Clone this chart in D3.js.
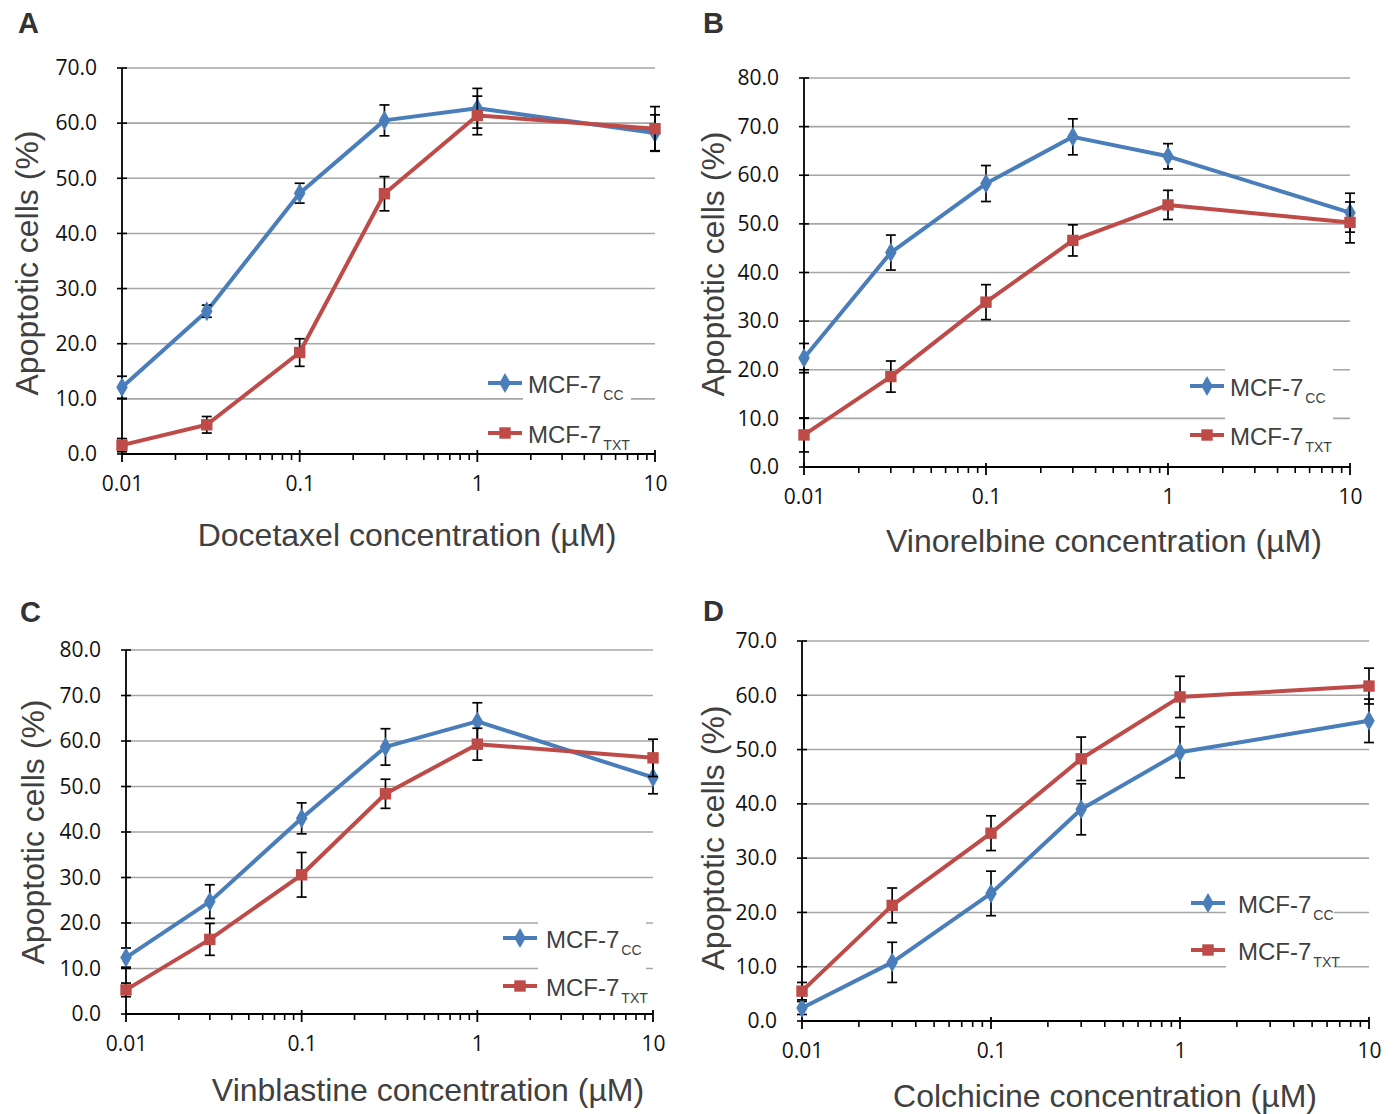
<!DOCTYPE html>
<html><head><meta charset="utf-8">
<script src="https://cdn.jsdelivr.net/npm/d3@7"></script>
<style>
html,body{margin:0;padding:0;background:#fff;}
svg{display:block;}
</style></head>
<body>
<svg id="chart" width="1397" height="1114"></svg>
<script>
// ---------- DATA ----------
const concentrations = [0.01, 0.03, 0.1, 0.3, 1, 10];
const xTickLabels = ["0.01", "0.1", "1", "10"];
const xTickValues = [0.01, 0.1, 1, 10];
const seriesBase = "MCF-7";
const seriesSubs = ["CC", "TXT"];
const panelLetters = ["A", "B", "C", "D"];
const drugTitles = ["Docetaxel concentration (\u00b5M)", "Vinorelbine concentration (\u00b5M)",
                    "Vinblastine concentration (\u00b5M)", "Colchicine concentration (\u00b5M)"];
const yTitle = "Apoptotic cells (%)";
const yMaxes = [70, 80, 80, 70];

const docetaxelCC      = [12.1, 25.9, 47.3, 60.5, 62.7, 58.2];
const docetaxelCCErr   = [2.0, 1.1, 1.8, 2.8, 3.6, 3.3];
const docetaxelTXT     = [1.6, 5.3, 18.4, 47.2, 61.4, 59.0];
const docetaxelTXTErr  = [1.2, 1.5, 2.5, 3.1, 3.5, 4.0];

const vinorelbineCC     = [22.4, 44.1, 58.3, 67.9, 63.9, 52.3];
const vinorelbineCCErr  = [3.0, 3.6, 3.7, 3.7, 2.6, 4.0];
const vinorelbineTXT    = [6.6, 18.6, 33.9, 46.6, 53.9, 50.3];
const vinorelbineTXTErr = [3.5, 3.2, 3.6, 3.2, 3.0, 4.2];

const vinblastineCC     = [12.4, 24.7, 43.0, 58.7, 64.3, 52.0];
const vinblastineCCErr  = [2.1, 3.7, 3.4, 4.0, 4.1, 3.6];
const vinblastineTXT    = [5.3, 16.4, 30.6, 48.4, 59.3, 56.3];
const vinblastineTXTErr = [1.5, 3.5, 4.9, 3.2, 3.5, 4.1];

const colchicineCC      = [2.4, 10.8, 23.5, 39.0, 49.5, 55.3];
const colchicineCCErr   = [1.2, 3.7, 4.1, 4.7, 4.7, 4.0];
const colchicineTXT     = [5.5, 21.3, 34.6, 48.3, 59.7, 61.7];
const colchicineTXTErr  = [1.6, 3.2, 3.2, 4.0, 3.8, 3.3];

const panelSeries = [
  [[docetaxelCC, docetaxelCCErr], [docetaxelTXT, docetaxelTXTErr]],
  [[vinorelbineCC, vinorelbineCCErr], [vinorelbineTXT, vinorelbineTXTErr]],
  [[vinblastineCC, vinblastineCCErr], [vinblastineTXT, vinblastineTXTErr]],
  [[colchicineCC, colchicineCCErr], [colchicineTXT, colchicineTXTErr]]
];

// ---------- LAYOUT / STYLE ----------
const colors = ["#4a7ebb", "#be4b48"];
const layout = [
  {x0:122, x1:655, y0:454, y1:68,  letter:[18,33],  xt:[407,546], yt:[27,263],  leg:{lx:488, tx:528, r1:383, r2:433}},
  {x0:804, x1:1350, y0:467, y1:78, letter:[703,33], xt:[1104,552], yt:[713,264], leg:{lx:1190, tx:1230, r1:386, r2:435}},
  {x0:126, x1:653, y0:1014, y1:650, letter:[20,622], xt:[428,1101], yt:[33,832], leg:{lx:503, tx:546, r1:938, r2:986}},
  {x0:802, x1:1369, y0:1021, y1:641, letter:[703,621], xt:[1105,1107], yt:[713,838], leg:{lx:1191, tx:1238, r1:903, r2:950}}
];

const svg = d3.select("#chart");
svg.append("rect").attr("width",1397).attr("height",1114).attr("fill","#fff");

const diamond = d3.symbol().type(d3.symbolDiamond).size(115);
const square = d3.symbol().type(d3.symbolSquare).size(130);

panelLetters.forEach((letter, p) => {
  const L = layout[p];
  const g = svg.append("g");
  const x = d3.scaleLog().domain([0.01, 10]).range([L.x0, L.x1]);
  const y = d3.scaleLinear().domain([0, yMaxes[p]]).range([L.y0, L.y1]);
  const yTicks = d3.range(0, yMaxes[p] + 0.001, 10);

  // gridlines
  g.append("g").selectAll("line").data(yTicks.filter(v => v > 0)).join("line")
    .attr("x1", L.x0).attr("x2", L.x1)
    .attr("y1", d => y(d)).attr("y2", d => y(d))
    .attr("stroke", "#a6a6a6").attr("stroke-width", 1.6);

  // y axis
  const yAxis = d3.axisLeft(y).tickValues(yTicks).tickFormat(d3.format(".1f")).tickSize(0).tickPadding(25);
  const ya = g.append("g").attr("transform", `translate(${L.x0},0)`).call(yAxis);
  ya.select(".domain").remove();
  ya.selectAll("text").attr("font-family", "'Open Sans', sans-serif").attr("font-size", 21).attr("fill", "#111");
  g.append("g").selectAll("line").data(yTicks).join("line")
    .attr("x1", L.x0 - 5).attr("x2", L.x0 + 5)
    .attr("y1", d => y(d)).attr("y2", d => y(d))
    .attr("stroke", "#000").attr("stroke-width", 1.6);
  g.append("line").attr("x1", L.x0).attr("x2", L.x0).attr("y1", y(0)).attr("y2", y(yMaxes[p]))
    .attr("stroke", "#000").attr("stroke-width", 1.8);

  // x axis
  const minorTicks = [];
  [0.01, 0.1, 1].forEach(dec => { for (let k = 2; k <= 9; k++) minorTicks.push(dec * k); });
  const xAxis = d3.axisBottom(x).tickValues(xTickValues).tickFormat((d, i) => xTickLabels[i]).tickSize(0).tickPadding(22);
  const xa = g.append("g").attr("transform", `translate(0,${L.y0})`).call(xAxis);
  xa.select(".domain").remove();
  xa.selectAll("text").attr("font-family", "'Open Sans', sans-serif").attr("font-size", 21).attr("fill", "#111");
  g.append("g").selectAll("line").data(minorTicks).join("line")
    .attr("x1", d => x(d)).attr("x2", d => x(d))
    .attr("y1", L.y0).attr("y2", L.y0 + 6)
    .attr("stroke", "#000").attr("stroke-width", 1.6);
  g.append("g").selectAll("line").data(xTickValues).join("line")
    .attr("x1", d => x(d)).attr("x2", d => x(d))
    .attr("y1", L.y0 - 4).attr("y2", L.y0 + 8)
    .attr("stroke", "#000").attr("stroke-width", 1.8);
  g.append("line").attr("x1", L.x0).attr("x2", L.x1).attr("y1", L.y0).attr("y2", L.y0)
    .attr("stroke", "#000").attr("stroke-width", 1.8);

  // titles
  g.append("text").attr("x", L.xt[0]).attr("y", L.xt[1]).attr("text-anchor", "middle")
    .attr("font-family", "'Liberation Sans', Arial, sans-serif").attr("font-size", 32).attr("fill", "#404040")
    .text(drugTitles[p]);
  g.append("text").attr("transform", `translate(${L.yt[0]},${L.yt[1]}) rotate(-90)`)
    .attr("text-anchor", "middle").attr("dominant-baseline", "central")
    .attr("font-family", "'Liberation Sans', Arial, sans-serif").attr("font-size", 32).attr("fill", "#404040")
    .text(yTitle);
  g.append("text").attr("x", L.letter[0]).attr("y", L.letter[1])
    .attr("font-family", "'Liberation Sans', Arial, sans-serif").attr("font-weight", "bold")
    .attr("font-size", 29).attr("fill", "#333").text(letter);

  // series
  panelSeries[p].forEach((s, si) => {
    const vals = s[0], errs = s[1];
    const pts = concentrations.map((c, i) => ({c, v: vals[i], e: errs[i]}));
    const sg = g.append("g");
    sg.append("path").datum(pts)
      .attr("d", d3.line().x(d => x(d.c)).y(d => y(d.v)))
      .attr("fill", "none").attr("stroke", colors[si]).attr("stroke-width", 4)
      .attr("stroke-linejoin", "round");
    const eb = sg.append("g").selectAll("g").data(pts).join("g");
    eb.append("line").attr("x1", d => x(d.c)).attr("x2", d => x(d.c))
      .attr("y1", d => y(Math.max(0, d.v - d.e))).attr("y2", d => y(d.v + d.e))
      .attr("stroke", "#000").attr("stroke-width", 1.7);
    eb.append("line").attr("x1", d => x(d.c) - 5).attr("x2", d => x(d.c) + 5)
      .attr("y1", d => y(d.v + d.e)).attr("y2", d => y(d.v + d.e))
      .attr("stroke", "#000").attr("stroke-width", 1.7);
    eb.filter(d => d.v - d.e > 0).append("line").attr("x1", d => x(d.c) - 5).attr("x2", d => x(d.c) + 5)
      .attr("y1", d => y(d.v - d.e)).attr("y2", d => y(d.v - d.e))
      .attr("stroke", "#000").attr("stroke-width", 1.7);
    sg.append("g").selectAll("path").data(pts).join("path")
      .attr("transform", d => `translate(${x(d.c)},${y(d.v)})`)
      .attr("d", si === 0 ? diamond : square)
      .attr("fill", colors[si]);
  });

  // legend
  const lg = g.append("g");
  lg.append("rect").attr("x", L.leg.lx + 35).attr("y", L.leg.r1 - 22)
    .attr("width", 108).attr("height", L.leg.r2 - L.leg.r1 + 42).attr("fill", "#fff");
  [L.leg.r1, L.leg.r2].forEach((ry, si) => {
    lg.append("line").attr("x1", L.leg.lx).attr("x2", L.leg.lx + 34).attr("y1", ry).attr("y2", ry)
      .attr("stroke", colors[si]).attr("stroke-width", 4);
    lg.append("path").attr("transform", `translate(${L.leg.lx + 17},${ry})`)
      .attr("d", si === 0 ? diamond : square).attr("fill", colors[si]);
    const t = lg.append("text").attr("x", L.leg.tx).attr("y", ry + 10)
      .attr("font-family", "'Liberation Sans', Arial, sans-serif").attr("font-size", 24).attr("fill", "#404040");
    t.append("tspan").text(seriesBase);
    t.append("tspan").attr("dx", 2).attr("dy", 7).attr("font-size", 14).text(seriesSubs[si]);
  });
});
</script>
</body></html>
